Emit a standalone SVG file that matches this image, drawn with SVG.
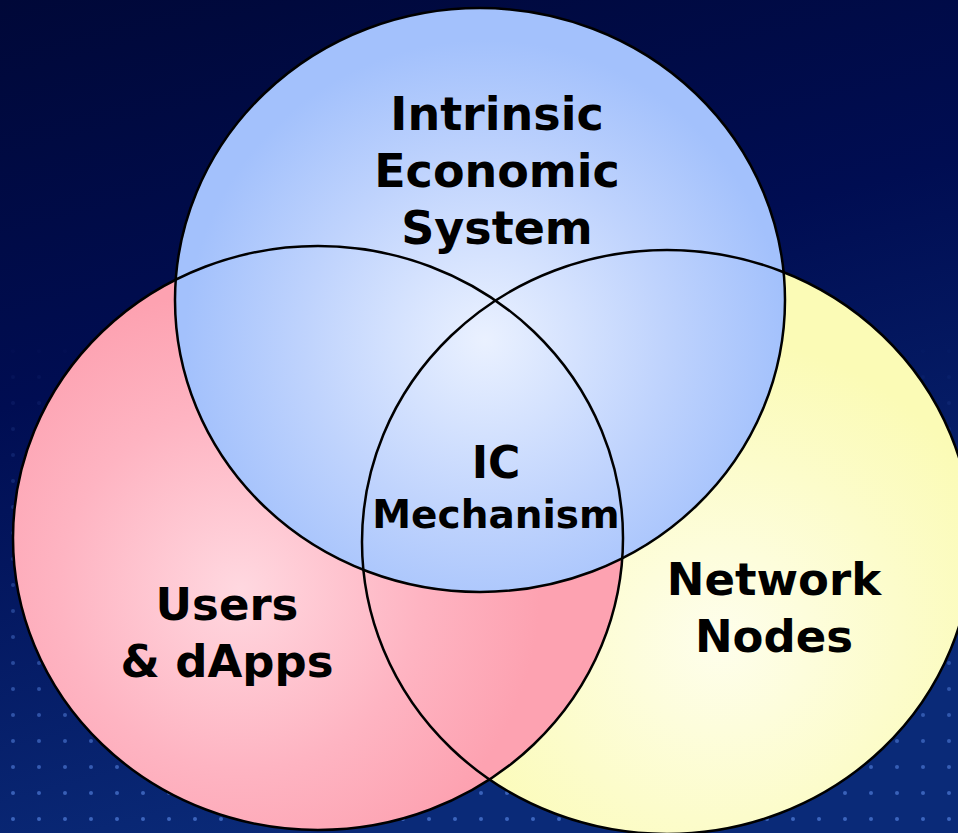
<svg xmlns="http://www.w3.org/2000/svg" width="958" height="833" viewBox="0 0 958 833">
  <defs>
    <linearGradient id="bg" x1="0" y1="0" x2="0.3" y2="1">
      <stop offset="0" stop-color="#000838"/>
      <stop offset="0.45" stop-color="#000d52"/>
      <stop offset="1" stop-color="#0a2a78"/>
    </linearGradient>
    <pattern id="dots" width="26" height="26" patternUnits="userSpaceOnUse">
      <circle cx="13" cy="13" r="2" fill="#5a88e6"/>
    </pattern>
    <linearGradient id="dotfade" x1="0" y1="0" x2="0" y2="1">
      <stop offset="0.4" stop-color="#fff" stop-opacity="0"/>
      <stop offset="1" stop-color="#fff" stop-opacity="0.65"/>
    </linearGradient>
    <mask id="dotmask">
      <rect width="958" height="833" fill="url(#dotfade)"/>
    </mask>
    <radialGradient id="gBlue" gradientUnits="userSpaceOnUse" cx="485" cy="340" r="300">
      <stop offset="0" stop-color="#eaf1ff"/>
      <stop offset="0.6" stop-color="#bfd3fd"/>
      <stop offset="1" stop-color="#a3c1fc"/>
    </radialGradient>
    <radialGradient id="gRed" gradientUnits="userSpaceOnUse" cx="240" cy="590" r="300">
      <stop offset="0" stop-color="#ffd8e0"/>
      <stop offset="0.6" stop-color="#feb4c2"/>
      <stop offset="1" stop-color="#fda2b1"/>
    </radialGradient>
    <radialGradient id="gYel" gradientUnits="userSpaceOnUse" cx="720" cy="640" r="300">
      <stop offset="0" stop-color="#fefeec"/>
      <stop offset="0.6" stop-color="#fcfccb"/>
      <stop offset="1" stop-color="#fbfbb6"/>
    </radialGradient>
    <ellipse id="eBlue" cx="480" cy="300" rx="305" ry="292"/>
    <ellipse id="eRed" cx="318" cy="538" rx="305" ry="292"/>
    <ellipse id="eYel" cx="667" cy="542" rx="305" ry="292"/>
  </defs>
  <style>
    .lbl { font-family: "DejaVu Sans", Verdana, sans-serif; font-weight: bold; fill: #000; text-anchor: middle; }
    .outline { fill: none; stroke: #000; stroke-width: 2.5; }
  </style>
  <g id="background">
    <rect width="958" height="833" fill="url(#bg)"/>
    <rect width="958" height="833" fill="url(#dots)" mask="url(#dotmask)"/>
  </g>
  <g id="network-nodes">
    <use href="#eYel" fill="url(#gYel)"/>
  </g>
  <g id="users-dapps">
    <use href="#eRed" fill="url(#gRed)"/>
  </g>
  <g id="intrinsic-economic-system">
    <use href="#eBlue" fill="url(#gBlue)"/>
  </g>
  <g id="outlines">
    <use href="#eYel" class="outline"/>
    <use href="#eRed" class="outline"/>
    <use href="#eBlue" class="outline"/>
  </g>
  <g id="labels">
    <text class="lbl" font-size="46" x="497" y="130">Intrinsic</text>
    <text class="lbl" font-size="46" x="497" y="187">Economic</text>
    <text class="lbl" font-size="46" x="497" y="244">System</text>
    <text class="lbl" font-size="44" x="496" y="478">IC</text>
    <text class="lbl" font-size="39" x="496" y="528">Mechanism</text>
    <text class="lbl" font-size="45" x="227" y="620">Users</text>
    <text class="lbl" font-size="45" x="227" y="677">&amp; dApps</text>
    <text class="lbl" font-size="45" x="774" y="595">Network</text>
    <text class="lbl" font-size="45" x="774" y="652">Nodes</text>
  </g>
</svg>
